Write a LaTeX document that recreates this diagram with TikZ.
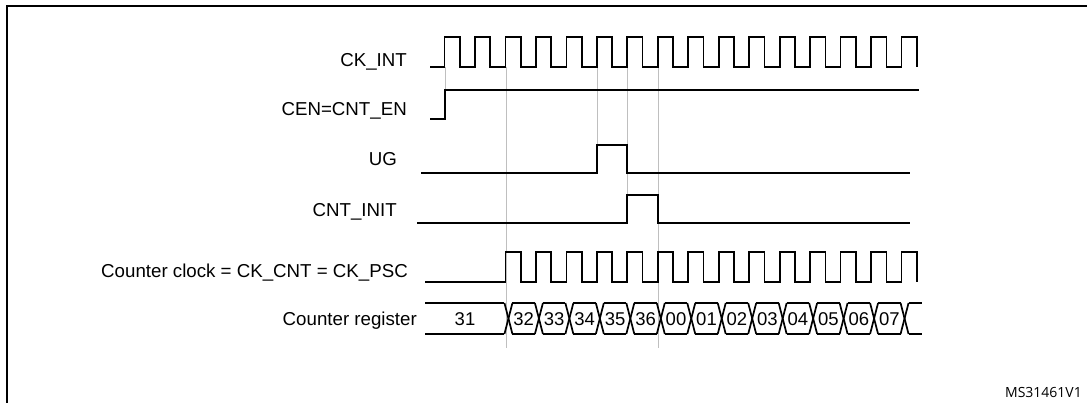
\documentclass[tikz,border=0pt]{standalone}
\usepackage{fontspec}
\setmainfont{Liberation Sans}
\newfontfamily\tagfont{Open Sans}
\begin{document}
\begin{tikzpicture}[x=1pt,y=-1pt,
  wave/.style={line width=1.7pt,line join=miter,black},
  guide/.style={line width=0.8pt,black!25},
  frameline/.style={line width=1.8pt,black},
  lbl/.style={anchor=base east,inner sep=0pt,font=\fontsize{18.7}{22}\selectfont},
  val/.style={anchor=base,inner sep=0pt,font=\fontsize{18.5}{22}\selectfont}]
\useasboundingbox (0,0) rectangle (1087,403);
\fill[white] (0,0) rectangle (1087,403);
\def\R{444.5}
\def\P{30.47}
\def\H{15.3}
% frame
\coordinate (fc) at (7,6);
\coordinate (fr) at (1090,6);
\coordinate (fb) at (7,406);
\draw[frameline] (fr) -- (fc) -- (fb);
% guide lines
\foreach \k/\yb in {0/90,2/348,5/145,6/195,7/348}{
  \pgfmathsetmacro\gx{\R+\k*\P+0.5}
  \draw[guide] (\gx,67) -- (\gx,\yb);
}
% labels
\node[lbl] (lckint) at (407,67) {CK\_INT};
\node[lbl] (lcen) at (407,116) {CEN=CNT\_EN};
\node[lbl] (lug) at (397,166) {UG};
\node[lbl] (linit) at (397,216.5) {CNT\_INIT};
\node[lbl] (lclk) at (408,278) {Counter clock = CK\_CNT = CK\_PSC};
\node[lbl] (lreg) at (417,326) {Counter register};
% CK_INT
\draw[wave] (430,67) \foreach \k in {0,...,15}{
  -- ({\R+\k*\P},67) -- ({\R+\k*\P},37) -- ({\R+\k*\P+\H},37) -- ({\R+\k*\P+\H},67)};
% CEN
\draw[wave] (430,119) -- (445,119) -- (445,90) -- (919,90);
% UG
\draw[wave] (421,173) -- ({\R+5*\P},173) -- ({\R+5*\P},145) -- ({\R+6*\P},145) -- ({\R+6*\P},173) -- (910,173);
% CNT_INIT
\draw[wave] (417,223) -- ({\R+6*\P},223) -- ({\R+6*\P},195) -- ({\R+7*\P},195) -- ({\R+7*\P},223) -- (910,223);
% Counter clock
\draw[wave] (425,282) \foreach \k in {2,...,15}{
  -- ({\R+\k*\P},282) -- ({\R+\k*\P},252) -- ({\R+\k*\P+\H},252) -- ({\R+\k*\P+\H},282)};
% Counter register bus
\pgfmathsetmacro\tfirst{\R+2*\P}
\draw[wave] (425,303) -- ({\tfirst-1},303);
\draw[wave] (425,334) -- ({\tfirst-1},334);
\foreach \k in {2,...,15}{
  \pgfmathsetmacro\t{\R+\k*\P}
  \draw[wave] ({\t-1},303) -- ({\t+7},334);
  \draw[wave] ({\t-1},334) -- ({\t+7},303);
}
\foreach \k in {2,...,14}{
  \pgfmathsetmacro\t{\R+\k*\P}
  \pgfmathsetmacro\u{\R+(\k+1)*\P}
  \draw[wave] ({\t+7},303) -- ({\u-1},303);
  \draw[wave] ({\t+7},334) -- ({\u-1},334);
}
\pgfmathsetmacro\tlast{\R+15*\P}
\draw[wave] ({\tlast+7},303) -- (922,303);
\draw[wave] ({\tlast+7},334) -- (922,334);
\node[val] (v1) at (465,326) {31};
\foreach \v [count=\i from 2] in {32,33,34,35,36,00,01,02,03,04,05,06,07}{
  \pgfmathsetmacro\c{\R+(\i+0.5)*\P+3}
  \node[val] (v\i) at (\c,326) {\v};
}
\node[anchor=base east,inner sep=0pt,font=\tagfont\fontsize{14}{16}\selectfont] (tag) at (1082,397) {MS31461V1};
\end{tikzpicture}
\end{document}
